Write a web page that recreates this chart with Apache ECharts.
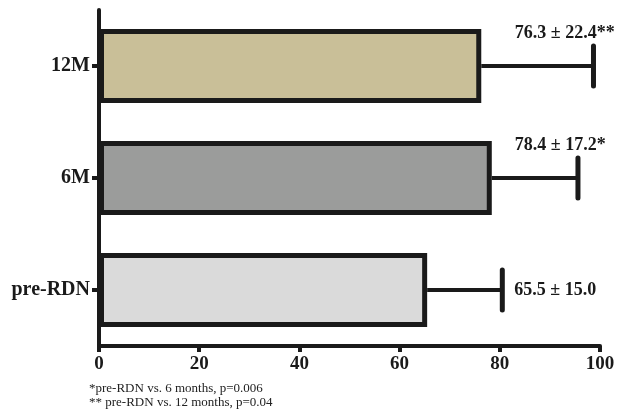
<!DOCTYPE html>
<html>
<head>
<meta charset="utf-8">
<script src="https://cdn.jsdelivr.net/npm/echarts@6/dist/echarts.min.js"></script>
<style>
  html, body { margin: 0; padding: 0; background: #fff; }
  #chart { width: 629px; height: 414px; }
</style>
</head>
<body>
<div id="chart"></div>
<script>
// groups, bottom to top
var groups = ['pre-RDN', '6M', '12M'];
var means = [65.5, 78.4, 76.3];
var sds = [15.0, 17.2, 22.4];
var valueLabels = ['65.5 \u00b1 15.0', '78.4 \u00b1 17.2*', '76.3 \u00b1 22.4**'];
var barColors = ['#dadada', '#9b9c9b', '#c9bf98'];
var xTicks = [0, 100, 20]; // min, max, step
var footnotes = ['*pre-RDN vs. 6 months, p=0.006', '** pre-RDN vs. 12 months, p=0.04'];

var ink = '#1a1a1a';
var serif = '"Liberation Serif", "DejaVu Serif", serif';

var chart = echarts.init(document.getElementById('chart'));

var errData = groups.map(function (g, i) { return [i, means[i], sds[i]]; });

chart.setOption({
  animation: false,
  grid: { left: 99, right: 29, top: 10, bottom: 68 },
  xAxis: {
    type: 'value',
    min: xTicks[0], max: xTicks[1], interval: xTicks[2],
    axisLine: { show: true, lineStyle: { color: ink, width: 4 } },
    axisTick: { show: true, length: 6, lineStyle: { color: ink, width: 4 } },
    splitLine: { show: false },
    axisLabel: { color: ink, fontSize: 19, fontWeight: 'bold', fontFamily: serif, margin: 9 }
  },
  yAxis: {
    type: 'category',
    data: groups,
    axisLine: { show: true, lineStyle: { color: ink, width: 4 } },
    axisTick: { show: true, alignWithLabel: true, length: 7, lineStyle: { color: ink, width: 4 } },
    axisLabel: { color: ink, fontSize: 20, fontWeight: 'bold', fontFamily: serif, margin: 9 }
  },
  series: [
    {
      type: 'bar',
      barWidth: 74,
      data: means.map(function (v, i) {
        return { value: v, itemStyle: { color: barColors[i] } };
      }),
      itemStyle: { borderColor: ink, borderWidth: 5 },
      z: 2
    },
    {
      type: 'custom',
      data: errData,
      z: 3,
      renderItem: function (params, api) {
        var idx = api.value(0);
        var m = api.value(1);
        var sd = api.value(2);
        var p0 = api.coord([m, idx]);
        var p1 = api.coord([m + sd, idx]);
        var capH = 40;
        var above = idx > 0;
        var lx = above ? api.coord([83, idx])[0] : p1[0] + 12;
        var ly = above ? p1[1] - 33 : p1[1];
        return {
          type: 'group',
          children: [
            { type: 'line', shape: { x1: p0[0], y1: p0[1], x2: p1[0], y2: p1[1] },
              style: { stroke: ink, lineWidth: 4 } },
            { type: 'line', shape: { x1: p1[0], y1: p1[1] - capH / 2, x2: p1[0], y2: p1[1] + capH / 2 },
              style: { stroke: ink, lineWidth: 5, lineCap: 'round' } },
            { type: 'text', x: lx, y: ly,
              style: { text: valueLabels[idx], fill: ink, font: 'bold 18px ' + serif,
                       textAlign: 'left', textVerticalAlign: 'middle' } }
          ]
        };
      }
    }
  ],
  graphic: footnotes.map(function (t, i) {
    return {
      type: 'text', left: 89, top: 382 + i * 14,
      style: { text: t, fill: '#222', font: '13px ' + serif }
    };
  })
});
</script>
</body>
</html>
